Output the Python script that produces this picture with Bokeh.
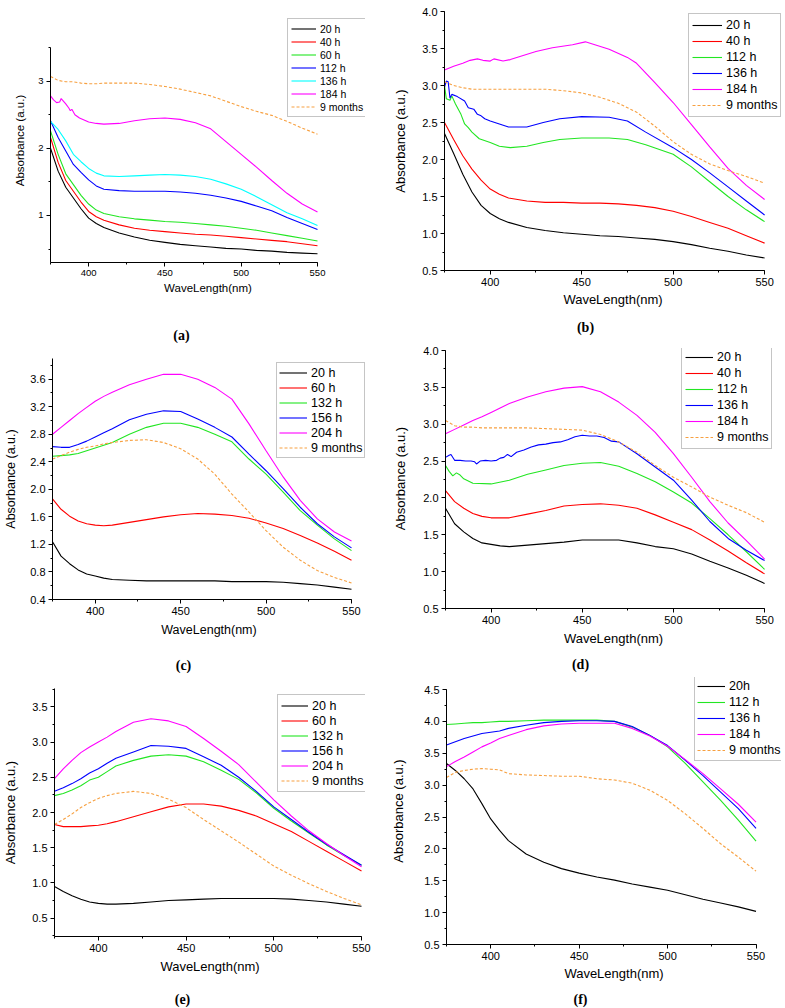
from bokeh.plotting import figure
from bokeh.models import (Range1d, SingleIntervalTicker, NumeralTickFormatter,
                          Legend, LegendItem)
from bokeh.layouts import row, column
from bokeh.embed import file_html
from bokeh.resources import INLINE
from bokeh.core.properties import value

# ---------------- data ----------------
WL = [375, 380, 385, 390, 395, 400, 405, 410, 420, 430, 440, 450, 460, 470,
      480, 490, 500, 510, 520, 530, 540, 550]

# panel (a)
a_20h = [2.0, 1.66, 1.42, 1.26, 1.1, 0.96, 0.88, 0.82, 0.74, 0.68, 0.63, 0.6, 0.57, 0.55, 0.53, 0.51, 0.5, 0.48, 0.47, 0.45, 0.44, 0.43]
a_40h = [2.16, 1.79, 1.52, 1.36, 1.2, 1.06, 0.98, 0.93, 0.86, 0.81, 0.78, 0.76, 0.74, 0.72, 0.71, 0.69, 0.67, 0.65, 0.63, 0.61, 0.58, 0.55]
a_60h = [2.26, 1.91, 1.62, 1.46, 1.3, 1.17, 1.08, 1.03, 0.98, 0.95, 0.93, 0.91, 0.9, 0.88, 0.86, 0.84, 0.81, 0.78, 0.74, 0.7, 0.66, 0.62]
a_112h = [2.41, 2.16, 1.96, 1.76, 1.64, 1.53, 1.44, 1.39, 1.37, 1.36, 1.36, 1.36, 1.35, 1.33, 1.3, 1.26, 1.21, 1.14, 1.07, 0.97, 0.88, 0.79]
a_136h = [2.4, 2.28, 2.11, 1.91, 1.8, 1.7, 1.63, 1.59, 1.58, 1.59, 1.6, 1.61, 1.6, 1.58, 1.54, 1.47, 1.39, 1.28, 1.16, 1.04, 0.95, 0.85]
a_184h_wl = [375, 377, 379, 381, 382, 385, 387, 388, 389, 391, 394, 400, 405, 410, 420, 430, 440, 450, 460, 470, 480, 490, 500, 510, 520, 530, 540, 550]
a_184h = [2.78, 2.72, 2.68, 2.69, 2.74, 2.66, 2.6, 2.56, 2.58, 2.5, 2.45, 2.39, 2.37, 2.36, 2.37, 2.41, 2.44, 2.45, 2.43, 2.38, 2.29, 2.1, 1.91, 1.72, 1.52, 1.33, 1.17, 1.05]
a_9m = [3.07, 3.01, 2.99, 2.99, 2.97, 2.96, 2.96, 2.97, 2.97, 2.97, 2.95, 2.92, 2.88, 2.83, 2.78, 2.7, 2.62, 2.55, 2.49, 2.4, 2.3, 2.21]

# panel (b)
b_20h = [2.35, 2.08, 1.8, 1.56, 1.38, 1.27, 1.2, 1.15, 1.08, 1.04, 1.01, 0.99, 0.97, 0.96, 0.94, 0.92, 0.89, 0.85, 0.8, 0.76, 0.71, 0.67]
b_40h = [2.5, 2.27, 2.05, 1.87, 1.72, 1.6, 1.53, 1.48, 1.44, 1.42, 1.42, 1.41, 1.41, 1.4, 1.38, 1.35, 1.3, 1.23, 1.15, 1.07, 0.97, 0.87]
b_112h_wl = [375, 376, 378, 379, 381, 384, 386, 388, 390, 394, 400, 405, 411, 420, 429, 438, 450, 465, 475, 485, 500, 510, 520, 530, 540, 550]
b_112h = [3.0, 2.82, 2.8, 2.86, 2.75, 2.61, 2.48, 2.43, 2.37, 2.28, 2.23, 2.18, 2.16, 2.18, 2.23, 2.27, 2.29, 2.29, 2.27, 2.2, 2.07, 1.9, 1.7, 1.5, 1.32, 1.16]
b_136h_wl = [375, 376, 377, 378, 379, 382, 386, 388, 391, 393, 395, 397, 400, 405, 410, 420, 429, 438, 450, 465, 475, 485, 500, 510, 520, 530, 540, 550]
b_136h = [2.98, 3.06, 3.05, 2.83, 2.88, 2.85, 2.79, 2.7, 2.68, 2.61, 2.59, 2.55, 2.52, 2.48, 2.44, 2.44, 2.5, 2.55, 2.58, 2.57, 2.52, 2.37, 2.16, 2.0, 1.82, 1.63, 1.44, 1.25]
b_184h_wl = [375, 380, 385, 389, 393, 396, 400, 402, 407, 411, 425, 434, 445, 452, 465, 475, 480, 490, 500, 510, 520, 530, 540, 550]
b_184h = [3.21, 3.26, 3.3, 3.34, 3.36, 3.34, 3.33, 3.36, 3.33, 3.35, 3.46, 3.51, 3.55, 3.59, 3.49, 3.38, 3.3, 3.04, 2.77, 2.47, 2.17, 1.88, 1.65, 1.46]
b_9m = [3.05, 3.0, 2.97, 2.95, 2.95, 2.95, 2.95, 2.95, 2.95, 2.95, 2.93, 2.9, 2.84, 2.76, 2.64, 2.45, 2.24, 2.07, 1.94, 1.85, 1.77, 1.68]

# panel (c)
c_20h = [1.24, 1.03, 0.92, 0.83, 0.77, 0.74, 0.71, 0.69, 0.68, 0.67, 0.67, 0.67, 0.67, 0.67, 0.66, 0.66, 0.66, 0.65, 0.63, 0.61, 0.58, 0.55]
c_60h = [1.86, 1.71, 1.61, 1.54, 1.5, 1.48, 1.47, 1.48, 1.52, 1.56, 1.6, 1.63, 1.65, 1.64, 1.62, 1.58, 1.51, 1.43, 1.33, 1.22, 1.1, 0.97]
c_132h = [2.48, 2.49, 2.5, 2.52, 2.56, 2.6, 2.64, 2.68, 2.8, 2.9, 2.96, 2.96, 2.9, 2.8, 2.69, 2.44, 2.22, 1.96, 1.69, 1.48, 1.28, 1.11]
c_156h = [2.62, 2.61, 2.61, 2.65, 2.7, 2.76, 2.82, 2.88, 3.01, 3.09, 3.14, 3.13, 3.02, 2.9, 2.76, 2.51, 2.27, 2.01, 1.74, 1.5, 1.31, 1.15]
c_204h = [2.8, 2.9, 3.0, 3.1, 3.19, 3.28, 3.35, 3.41, 3.52, 3.6, 3.67, 3.67, 3.6, 3.48, 3.31, 2.95, 2.56, 2.18, 1.84, 1.57, 1.38, 1.25]
c_9m = [2.44, 2.49, 2.54, 2.58, 2.61, 2.63, 2.66, 2.68, 2.71, 2.72, 2.68, 2.59, 2.44, 2.22, 1.93, 1.67, 1.4, 1.16, 0.97, 0.82, 0.72, 0.64]

# panel (d)
d_20h = [1.86, 1.65, 1.54, 1.45, 1.39, 1.37, 1.35, 1.34, 1.36, 1.38, 1.4, 1.43, 1.43, 1.43, 1.39, 1.34, 1.31, 1.24, 1.14, 1.05, 0.95, 0.84]
d_40h = [2.1, 1.95, 1.86, 1.79, 1.75, 1.73, 1.73, 1.73, 1.78, 1.83, 1.89, 1.91, 1.92, 1.9, 1.86, 1.77, 1.67, 1.57, 1.43, 1.28, 1.12, 0.97]
d_112h_wl = [375, 377, 379, 381, 383, 385, 390, 400, 410, 420, 430, 440, 450, 460, 470, 480, 490, 500, 510, 520, 530, 540, 550]
d_112h = [2.44, 2.36, 2.3, 2.34, 2.31, 2.26, 2.2, 2.19, 2.24, 2.32, 2.38, 2.44, 2.47, 2.48, 2.43, 2.33, 2.22, 2.08, 1.93, 1.72, 1.5, 1.27, 1.03]
d_136h_wl = [375, 377, 378, 380, 383, 386, 389, 391, 392, 394, 397, 400, 403, 405, 407, 409, 411, 414, 418, 422, 426, 430, 434, 438, 442, 446, 450, 454, 458, 462, 466, 470, 480, 490, 500, 510, 520, 530, 540, 550]
d_136h = [2.55, 2.58, 2.59, 2.51, 2.51, 2.5, 2.5, 2.49, 2.46, 2.5, 2.51, 2.5, 2.51, 2.54, 2.55, 2.59, 2.56, 2.62, 2.65, 2.69, 2.72, 2.73, 2.75, 2.76, 2.79, 2.83, 2.85, 2.84, 2.84, 2.82, 2.77, 2.76, 2.6, 2.42, 2.24, 1.97, 1.68, 1.45, 1.29, 1.15]
d_184h = [2.87, 2.93, 2.99, 3.05, 3.1, 3.16, 3.22, 3.28, 3.37, 3.44, 3.49, 3.51, 3.44, 3.3, 3.12, 2.89, 2.6, 2.28, 1.95, 1.66, 1.42, 1.17]
d_9m = [3.05, 2.98, 2.96, 2.96, 2.95, 2.95, 2.95, 2.95, 2.95, 2.94, 2.93, 2.92, 2.86, 2.76, 2.62, 2.44, 2.28, 2.15, 2.01, 1.9, 1.8, 1.67]

# panel (e)
e_20h = [0.95, 0.88, 0.82, 0.77, 0.73, 0.71, 0.7, 0.7, 0.71, 0.73, 0.75, 0.76, 0.77, 0.78, 0.78, 0.78, 0.78, 0.77, 0.75, 0.73, 0.7, 0.67]
e_60h = [1.83, 1.8, 1.8, 1.8, 1.81, 1.82, 1.84, 1.87, 1.94, 2.01, 2.08, 2.12, 2.12, 2.09, 2.03, 1.95, 1.84, 1.73, 1.59, 1.45, 1.31, 1.17]
e_132h = [2.24, 2.27, 2.32, 2.38, 2.46, 2.5, 2.58, 2.66, 2.74, 2.8, 2.82, 2.8, 2.72, 2.6, 2.47, 2.28, 2.06, 1.88, 1.71, 1.54, 1.39, 1.25]
e_156h = [2.3, 2.35, 2.41, 2.48, 2.56, 2.62, 2.7, 2.77, 2.86, 2.95, 2.94, 2.91, 2.79, 2.67, 2.5, 2.3, 2.08, 1.9, 1.72, 1.55, 1.4, 1.25]
e_204h = [2.48, 2.62, 2.74, 2.85, 2.93, 3.0, 3.07, 3.15, 3.28, 3.33, 3.3, 3.22, 3.05, 2.87, 2.68, 2.43, 2.18, 1.95, 1.74, 1.56, 1.39, 1.23]
e_9m = [1.83, 1.9, 1.98, 2.07, 2.14, 2.2, 2.24, 2.27, 2.3, 2.27, 2.19, 2.07, 1.9, 1.74, 1.58, 1.41, 1.24, 1.11, 0.99, 0.88, 0.78, 0.69]

# panel (f)
f_20h = [3.34, 3.23, 3.1, 2.94, 2.71, 2.47, 2.29, 2.13, 1.92, 1.79, 1.69, 1.62, 1.56, 1.51, 1.45, 1.4, 1.35, 1.28, 1.21, 1.15, 1.09, 1.02]
f_112h = [3.95, 3.96, 3.97, 3.98, 3.98, 3.99, 4.0, 4.0, 4.01, 4.02, 4.02, 4.02, 4.02, 4.0, 3.91, 3.78, 3.6, 3.34, 3.05, 2.76, 2.45, 2.12]
f_136h = [3.63, 3.68, 3.73, 3.77, 3.81, 3.83, 3.85, 3.89, 3.94, 3.98, 4.0, 4.01, 4.01, 4.0, 3.92, 3.78, 3.62, 3.39, 3.15, 2.89, 2.63, 2.32]
f_184h = [3.29, 3.37, 3.44, 3.52, 3.6, 3.66, 3.73, 3.78, 3.87, 3.93, 3.96, 3.97, 3.97, 3.97, 3.89, 3.77, 3.61, 3.4, 3.18, 2.94, 2.7, 2.42]
f_9m = [3.12, 3.2, 3.23, 3.25, 3.26, 3.25, 3.24, 3.18, 3.16, 3.15, 3.14, 3.14, 3.1, 3.08, 3.03, 2.92, 2.76, 2.55, 2.32, 2.08, 1.87, 1.65]

CAPTIONS = ["(a)", "(b)", "(c)", "(d)", "(e)", "(f)"]

# ---------------- styling ----------------
BLACK, RED, GREEN, BLUE, CYAN, MAGENTA, ORANGE = (
    "#000000", "#FF0000", "#22E622", "#0000FF", "#00FFFF", "#FF00FF", "#F7A040")
FONT = "Liberation Sans"
X0, X1 = 375, 550
PAGE_W = 785

# figure origin (page px), figure size, plot box (L, R, T, B), frame extension (R', T')
panels = [
    dict(org=(0, 0), W=390, H=318, box=(50, 317, 47, 262), ext=(365, 18),
         yr=(0.3, 3.5), yint=1.0, yfmt="0",
         tick_fs=9.5, lab_fs=11.5, leg_fs=10.5, row_h=13, glyph_w=25, pad=3,
         yls=9, xls=3, leg=(287, 117),
         series=[("20 h", WL, a_20h, BLACK, "solid"), ("40 h", WL, a_40h, RED, "solid"),
                 ("60 h", WL, a_60h, GREEN, "solid"), ("112 h", WL, a_112h, BLUE, "solid"),
                 ("136 h", WL, a_136h, CYAN, "solid"), ("184 h", a_184h_wl, a_184h, MAGENTA, "solid"),
                 ("9 months", WL, a_9m, ORANGE, "3 2")]),
    dict(org=(390, 0), W=395, H=318, box=(442, 764, 11, 270), ext=(781, 11),
         yr=(0.5, 4.0), yint=0.5, yfmt="0.0",
         tick_fs=11, lab_fs=13, leg_fs=12.5, row_h=16, glyph_w=30, pad=3,
         yls=11, xls=3, leg=(686, 117),
         series=[("20 h", WL, b_20h, BLACK, "solid"), ("40 h", WL, b_40h, RED, "solid"),
                 ("112 h", b_112h_wl, b_112h, GREEN, "solid"), ("136 h", b_136h_wl, b_136h, BLUE, "solid"),
                 ("184 h", b_184h_wl, b_184h, MAGENTA, "solid"), ("9 months", WL, b_9m, ORANGE, "3 2")]),
    dict(org=(0, 343), W=390, H=313, box=(52, 351, 358, 599), ext=(365, 358),
         yr=(0.4, 3.9), yint=0.4, yfmt="0.0",
         tick_fs=11, lab_fs=12.5, leg_fs=12.5, row_h=15, glyph_w=28, pad=2,
         yls=9, xls=5, leg=(276, 458),
         series=[("20 h", WL, c_20h, BLACK, "solid"), ("60 h", WL, c_60h, RED, "solid"),
                 ("132 h", WL, c_132h, GREEN, "solid"), ("156 h", WL, c_156h, BLUE, "solid"),
                 ("204 h", WL, c_204h, MAGENTA, "solid"), ("9 months", WL, c_9m, ORANGE, "3 2")]),
    dict(org=(390, 343), W=395, H=313, box=(443, 764, 350, 608), ext=(781, 348),
         yr=(0.5, 4.0), yint=0.5, yfmt="0.0",
         tick_fs=11, lab_fs=13, leg_fs=12.5, row_h=16, glyph_w=28, pad=3,
         yls=12, xls=4, leg=(679, 449),
         series=[("20 h", WL, d_20h, BLACK, "solid"), ("40 h", WL, d_40h, RED, "solid"),
                 ("112 h", d_112h_wl, d_112h, GREEN, "solid"), ("136 h", d_136h_wl, d_136h, BLUE, "solid"),
                 ("184 h", WL, d_184h, MAGENTA, "solid"), ("9 months", WL, d_9m, ORANGE, "3 2")]),
    dict(org=(0, 675), W=388, H=317, box=(53, 361, 688, 936), ext=(365, 688),
         yr=(0.24, 3.76), yint=0.5, yfmt="0.0",
         tick_fs=11, lab_fs=13, leg_fs=12.5, row_h=15, glyph_w=27, pad=3,
         yls=11, xls=4, leg=(276, 792),
         series=[("20 h", WL, e_20h, BLACK, "solid"), ("60 h", WL, e_60h, RED, "solid"),
                 ("132 h", WL, e_132h, GREEN, "solid"), ("156 h", WL, e_156h, BLUE, "solid"),
                 ("204 h", WL, e_204h, MAGENTA, "solid"), ("9 months", WL, e_9m, ORANGE, "3 2")]),
    dict(org=(388, 675), W=397, H=317, box=(439, 755, 689, 944), ext=(781, 677),
         yr=(0.5, 4.5), yint=0.5, yfmt="0.0",
         tick_fs=11, lab_fs=13, leg_fs=12.5, row_h=16, glyph_w=28, pad=2,
         yls=15, xls=3, leg=(687, 761),
         series=[("20h", WL, f_20h, BLACK, "solid"), ("112 h", WL, f_112h, GREEN, "solid"),
                 ("136 h", WL, f_136h, BLUE, "solid"), ("184 h", WL, f_184h, MAGENTA, "solid"),
                 ("9 months", WL, f_9m, ORANGE, "3 2")]),
]

# caption strips: (top, height, [(cx, cy), (cx, cy)]) in page px
strips = [
    (318, 25, [(181, 335), (585, 327)]),
    (656, 19, [(183, 665), (580, 664)]),
    (992, 16, [(182, 999), (580, 999)]),
]


def make_panel(s):
    ox, oy = s["org"]
    L, R, T, B = s["box"]
    Rp, Tp = s["ext"]
    lo, hi = s["yr"]
    x_end = X1 + (Rp - R) * (X1 - X0) / (R - L)
    y_end = hi + (T - Tp) * (hi - lo) / (B - T)
    p = figure(width=s["W"], height=s["H"], x_range=Range1d(X0, x_end),
               y_range=Range1d(lo, y_end), output_backend="svg", toolbar_location=None,
               title=None, min_border_left=L - ox, min_border_right=ox + s["W"] - Rp,
               min_border_top=Tp - oy, min_border_bottom=oy + s["H"] - B)
    p.outline_line_color = None
    p.xgrid.visible = False
    p.ygrid.visible = False
    p.background_fill_color = "white"
    p.border_fill_color = "white"

    p.xaxis.ticker = SingleIntervalTicker(interval=50, num_minor_ticks=2)
    p.yaxis.ticker = SingleIntervalTicker(interval=s["yint"], num_minor_ticks=2)
    p.yaxis.formatter = NumeralTickFormatter(format=s["yfmt"])
    p.xaxis.bounds = (X0, X1)
    p.yaxis.bounds = (lo, hi)
    p.xaxis.axis_label = "WaveLength(nm)"
    p.yaxis.axis_label = "Absorbance (a.u.)"
    for ax in (p.xaxis, p.yaxis):
        ax.axis_line_color = "black"
        ax.axis_line_width = 1
        ax.major_tick_line_color = "black"
        ax.minor_tick_line_color = "black"
        ax.major_tick_in = 0
        ax.major_tick_out = 4
        ax.minor_tick_in = 0
        ax.minor_tick_out = 2
        ax.major_label_text_font = FONT
        ax.major_label_text_font_size = f"{s['tick_fs']}px"
        ax.major_label_text_color = "black"
        ax.major_label_standoff = 3
        ax.axis_label_text_font = FONT
        ax.axis_label_text_font_size = f"{s['lab_fs']}px"
        ax.axis_label_text_font_style = "normal"
        ax.axis_label_text_color = "black"
    p.xaxis.axis_label_standoff = s["xls"]
    p.yaxis.axis_label_standoff = s["yls"]

    items = []
    for label, xs, ys, color, dash in s["series"]:
        rr = p.line(xs, ys, line_color=color, line_width=1.1, line_dash=dash)
        items.append(LegendItem(label=label, renderers=[rr]))
    lx, lb = s["leg"]  # legend left edge and bottom edge, page px
    leg = Legend(items=items, location=(lx - L, B - lb), orientation="vertical",
                 label_text_font=FONT, label_text_font_size=f"{s['leg_fs']}px",
                 label_text_color="black", glyph_width=s["glyph_w"],
                 glyph_height=s["row_h"], label_height=s["row_h"], label_standoff=4,
                 spacing=0, padding=s["pad"], margin=0,
                 border_line_color="#8c8c8c", border_line_width=1,
                 background_fill_color="white", background_fill_alpha=1.0)
    p.add_layout(leg)
    return p


def make_strip(top, h, pos, texts):
    p = figure(width=PAGE_W, height=h, x_range=Range1d(0, PAGE_W), y_range=Range1d(h, 0),
               output_backend="svg", toolbar_location=None, title=None, min_border=0,
               x_axis_type=None, y_axis_type=None)
    p.outline_line_color = None
    p.xgrid.visible = False
    p.ygrid.visible = False
    p.text(x=[c[0] for c in pos], y=[c[1] - top for c in pos], text=texts,
           text_font=value("Liberation Serif"), text_font_style="bold",
           text_font_size="14px", text_align="center", text_baseline="middle",
           text_color="black")
    return p


figs = [make_panel(s) for s in panels]
caps = [make_strip(t, h, pos, CAPTIONS[2 * i:2 * i + 2]) for i, (t, h, pos) in enumerate(strips)]
# each figure wrapped in its own column so that frames are not aligned across a row
layout = column(row(column(figs[0]), column(figs[1])), caps[0],
                row(column(figs[2]), column(figs[3])), caps[1],
                row(column(figs[4]), column(figs[5])), caps[2])

open("out.html", "w").write(file_html(layout, INLINE))
